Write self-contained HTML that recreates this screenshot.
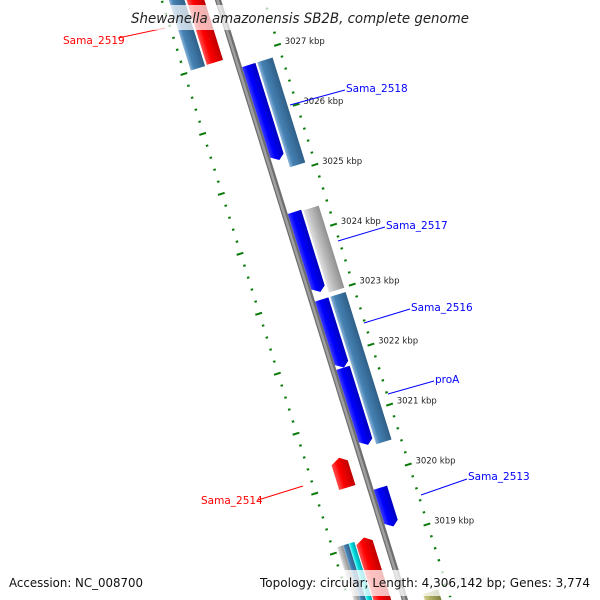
<!DOCTYPE html>
<html><head><meta charset="utf-8"><style>
html,body{margin:0;padding:0;background:#fff;overflow:hidden;width:600px;height:600px;}
svg{display:block;font-family:"DejaVu Sans","Liberation Sans",sans-serif;}
</style></head><body>
<svg id="map" width="600" height="600" viewBox="0 0 600 600" xmlns="http://www.w3.org/2000/svg">
<defs>
 <clipPath id="frame"><rect x="0" y="0" width="600" height="600"/></clipPath>
 <linearGradient id="g-blue" x1="0" x2="1" y1="0" y2="0"><stop offset="0" stop-color="#3a3aff"/><stop offset="0.35" stop-color="#0000ff"/><stop offset="1" stop-color="#0000c0"/></linearGradient>
 <linearGradient id="g-steel" x1="0" x2="1" y1="0" y2="0"><stop offset="0" stop-color="#8cb4d8"/><stop offset="0.25" stop-color="#4682b4"/><stop offset="1" stop-color="#2f5f88"/></linearGradient>
 <linearGradient id="g-red" x1="0" x2="1" y1="0" y2="0"><stop offset="0" stop-color="#ff5050"/><stop offset="0.35" stop-color="#ff0000"/><stop offset="1" stop-color="#c00000"/></linearGradient>
 <linearGradient id="g-silver" x1="0" x2="1" y1="0" y2="0"><stop offset="0" stop-color="#e0e0e0"/><stop offset="0.35" stop-color="#c0c0c0"/><stop offset="1" stop-color="#909090"/></linearGradient>
 <linearGradient id="g-cyan" x1="0" x2="1" y1="0" y2="0"><stop offset="0" stop-color="#80ffff"/><stop offset="0.35" stop-color="#00e0e0"/><stop offset="1" stop-color="#00a0b0"/></linearGradient>
 <linearGradient id="g-olive" x1="0" x2="1" y1="0" y2="0"><stop offset="0" stop-color="#d0d090"/><stop offset="0.35" stop-color="#b0b060"/><stop offset="1" stop-color="#808040"/></linearGradient>
</defs>
<g clip-path="url(#frame)">
<g id="rot" transform="translate(218,0) rotate(-17.3)"></g>
<g id="labels"></g>
</g>
<rect x="120" y="5" width="360" height="25" fill="#fff" fill-opacity="0.7"/>
<text x="300" y="23" text-anchor="middle" font-size="14.5" font-style="italic" fill="#222" textLength="338" lengthAdjust="spacingAndGlyphs">Shewanella amazonensis SB2B, complete genome</text>
<rect x="0" y="570" width="600" height="26" fill="#fff" fill-opacity="0.75"/>
<text x="9" y="587" font-size="12.5" fill="#111" textLength="134" lengthAdjust="spacingAndGlyphs">Accession: NC_008700</text>
<text x="260" y="587" font-size="12.5" fill="#111" textLength="330" lengthAdjust="spacingAndGlyphs">Topology: circular; Length: 4,306,142 bp; Genes: 3,774</text>
</svg>
<script>
// data (kbp)
const tickStart = 3016.4;
const tickEnd = 3028.6;
const majorTicks = [3018, 3019, 3020, 3021, 3022, 3023, 3024, 3025, 3026, 3027];
const tickLabels = ["3018 kbp","3019 kbp","3020 kbp","3021 kbp","3022 kbp","3023 kbp","3024 kbp","3025 kbp","3026 kbp","3027 kbp"];
const featStart = [3026.83, 3024.38, 3022.92, 3021.78, 3019.78, 3026.83, 3024.36, 3022.92, 3017.96, 3028.4, 3020.43, 3019.1, 3028.5, 3019.08, 3019.08, 3019.08];
const featEnd   = [3025.24, 3023.04, 3021.78, 3020.49, 3019.13, 3025.08, 3022.99, 3020.46, 3017.6, 3027.03, 3019.94, 3017.7, 3027.02, 3017.77, 3017.77, 3017.77];
const featTrack = ["ri","ri","ri","ri","ri","ro","ro","ro","ro","li","li","li","lo","lo1","lo2","lo3"];
const featColor = ["blue","blue","blue","blue","blue","steel","silver","steel","olive","red","red","red","steel","silver","steel","cyan"];
const featStrand = [-1,-1,-1,-1,-1,0,0,0,0,1,1,1,0,0,0,0];
const featName = ["sama-2518","sama-2517","sama-2516","proa","sama-2513","cog-a","cog-b","cog-c","cog-d","sama-2519","sama-2514","red-gene-c","cog-e","cog-f","cog-g","cog-h"];
const labelText = ["Sama_2519","Sama_2518","Sama_2517","Sama_2516","proA","Sama_2513","Sama_2514"];
const labelColor = ["red","blue","blue","blue","blue","blue","red"];

const NS="http://www.w3.org/2000/svg";
const S0=60.5, PXK=62.8;
function sOf(k){return (3027-k)*PXK+S0;}
const tracks={ri:[3,17],ro:[19,35],li:[-30,-13],lo:[-47,-32],lo1:[-49,-43],lo2:[-43,-37],lo3:[-37,-31]};
const rot=document.getElementById('rot');
function mk(tag,attrs,parent){const e=document.createElementNS(NS,tag);for(const k in attrs)e.setAttribute(k,attrs[k]);(parent||rot).appendChild(e);return e;}
let bb=mk('line',{x1:0,y1:-50,x2:0,y2:660,stroke:'#6e6e6e','stroke-width':6});


let bb2=mk('line',{x1:-0.5,y1:-50,x2:-0.5,y2:660,stroke:'#a0a0a0','stroke-width':2.5});


const nT=Math.round((tickEnd-tickStart)/0.2);
for(let i=0;i<=nT;i++){
  const k=tickStart+i*0.2;
  const isMaj=majorTicks.some(m=>Math.abs(m-k)<0.01);
  const s=sOf(k);
  let t1=mk('line',isMaj?{x1:40,x2:47,y1:s,y2:s,stroke:'#0a7a0a','stroke-width':2}:{x1:43,x2:45.5,y1:s,y2:s,stroke:'#0a7a0a','stroke-width':2});
  
  
  let t2=mk('line',isMaj?{x1:-58,x2:-51,y1:s,y2:s,stroke:'#0a7a0a','stroke-width':2}:{x1:-55,x2:-52.5,y1:s,y2:s,stroke:'#0a7a0a','stroke-width':2});
  
  
}
for(let i=0;i<featStart.length;i++){
  const tr=tracks[featTrack[i]];
  const a=sOf(featStart[i]), b=sOf(featEnd[i]);
  const x0=tr[0],x1=tr[1],xm=(x0+x1)/2,h=5;
  let pts;
  if(featStrand[i]<0) pts=[[x0,a],[x1,a],[x1,b-h],[xm+1,b],[x0,b-h]];
  else if(featStrand[i]>0) pts=[[x0,a+h],[xm+1,a],[x1,a+h],[x1,b],[x0,b]];
  else pts=[[x0,a],[x1,a],[x1,b],[x0,b]];
  const p=mk('polygon',{points:pts.map(q=>q.join(',')).join(' '),fill:'url(#g-'+featColor[i]+')'});
  
  
}
const th=-17.3*Math.PI/180;
function scr(px,s){return [218+px*Math.cos(th)-s*Math.sin(th), px*Math.sin(th)+s*Math.cos(th)];}
const lab=document.getElementById('labels');
for(let i=0;i<majorTicks.length;i++){
  const q=scr(50,sOf(majorTicks[i]));
  const t=mk('text',{x:q[0]+1,y:q[1]+1,'font-size':8.5,fill:'#222'},lab);
  t.textContent=tickLabels[i];
  if(majorTicks[i]===3018)t.setAttribute('fill-opacity','0.3');
  
  
}
const L=[[63,44,118,38,165,28],[346,92,290,105,345,90],[386,229,338,241,385,227],[411,311,364,323,410,309],[435,383,388,394,434,381],[468,480,421,495,467,479],[201,504,258,500,303,486]];
for(let i=0;i<labelText.length;i++){
  const d=L[i];
  const ln=mk('line',{x1:d[2],y1:d[3],x2:d[4],y2:d[5],stroke:labelColor[i],'stroke-width':1},lab);
  
  
  const t=mk('text',{x:d[0],y:d[1],'font-size':10.5,fill:labelColor[i]},lab);
  t.textContent=labelText[i];
  
  
}
</script>
</body></html>
